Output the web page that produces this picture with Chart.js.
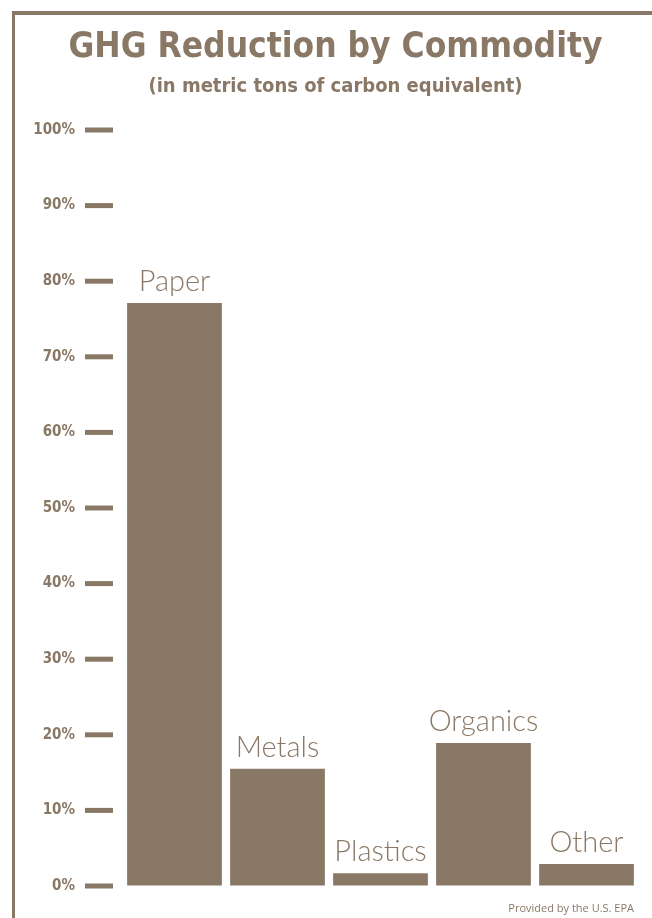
<!DOCTYPE html>
<html>
<head>
<meta charset="utf-8">
<script src="https://cdn.jsdelivr.net/npm/chart.js@4.4.1/dist/chart.umd.min.js"></script>
<style>
  body { margin: 0; background: #fff; }
  #wrap { position: relative; width: 652px; height: 918px; }
  #frame {
    position: absolute; left: 12px; top: 11px; right: 0; bottom: 0;
    border-top: 4px solid #8a7866; border-left: 3px solid #8a7866;
  }
  #chart { position: absolute; left: 0; top: 0; }
</style>
</head>
<body>
<div id="wrap">
  <div id="frame"></div>
  <canvas id="chart" width="652" height="918"></canvas>
</div>
<script>
const categories = ['Paper', 'Metals', 'Plastics', 'Organics', 'Other'];
const reduction = [77.1, 15.5, 1.7, 18.9, 2.9];
const tickValues = [0, 10, 20, 30, 40, 50, 60, 70, 80, 90, 100];

const brown = '#8a7866';
const condensed = "'DejaVu Sans Condensed', sans-serif";

// short dashes on the y axis, a bit away from the bars
const tickDashes = {
  id: 'tickDashes',
  afterDraw(chart) {
    const ctx = chart.ctx;
    const y = chart.scales.y;
    const x0 = chart.chartArea.left;
    ctx.save();
    ctx.strokeStyle = brown;
    ctx.lineWidth = 5;
    y.ticks.forEach(t => {
      const py = y.getPixelForValue(t.value);
      ctx.beginPath();
      ctx.moveTo(x0 - 38, py);
      ctx.lineTo(x0 - 10, py);
      ctx.stroke();
    });
    ctx.restore();
  }
};

// labels above each bar + the source note
const barLabels = {
  id: 'barLabels',
  afterDatasetsDraw(chart) {
    const ctx = chart.ctx;
    const meta = chart.getDatasetMeta(0);
    ctx.save();
    ctx.fillStyle = brown;
    ctx.font = "300 29px Lato, 'Open Sans', sans-serif";
    ctx.textAlign = 'center';
    ctx.textBaseline = 'alphabetic';
    meta.data.forEach((bar, i) => {
      ctx.fillText(categories[i], bar.x, bar.y - 12);
    });
    ctx.font = "11px 'Open Sans', sans-serif";
    ctx.textAlign = 'right';
    ctx.fillText('Provided by the U.S. EPA', 634, 912);
    ctx.restore();
  }
};

new Chart(document.getElementById('chart'), {
  type: 'bar',
  data: {
    labels: categories,
    datasets: [{
      data: reduction,
      backgroundColor: brown,
      borderWidth: 0,
      barPercentage: 0.92,
      categoryPercentage: 1
    }]
  },
  options: {
    responsive: false,
    devicePixelRatio: 1,
    animation: false,
    layout: { padding: { left: 33, right: 14, top: 0, bottom: 32 } },
    plugins: {
      legend: { display: false },
      tooltip: { enabled: false },
      title: {
        display: true,
        text: 'GHG Reduction by Commodity',
        color: brown,
        font: { family: condensed, size: 35, weight: 'bold' },
        padding: { top: 27, bottom: 0 }
      },
      subtitle: {
        display: true,
        text: '(in metric tons of carbon equivalent)',
        color: brown,
        font: { family: condensed, size: 20, weight: 'bold' },
        padding: { top: 6, bottom: 31 }
      }
    },
    scales: {
      x: { display: false },
      y: {
        min: 0,
        max: 100,
        afterBuildTicks: (axis) => { axis.ticks = tickValues.map(v => ({ value: v })); },
        afterFit: (axis) => { axis.width = 90; },
        ticks: {
          callback: (v) => v + '%',
          color: brown,
          padding: 10,
          font: { family: condensed, size: 15, weight: 'bold' }
        },
        grid: { drawOnChartArea: false, tickLength: 38, tickColor: 'rgba(0,0,0,0)' },
        border: { display: false }
      }
    }
  },
  plugins: [barLabels, tickDashes]
});
</script>
</body>
</html>
